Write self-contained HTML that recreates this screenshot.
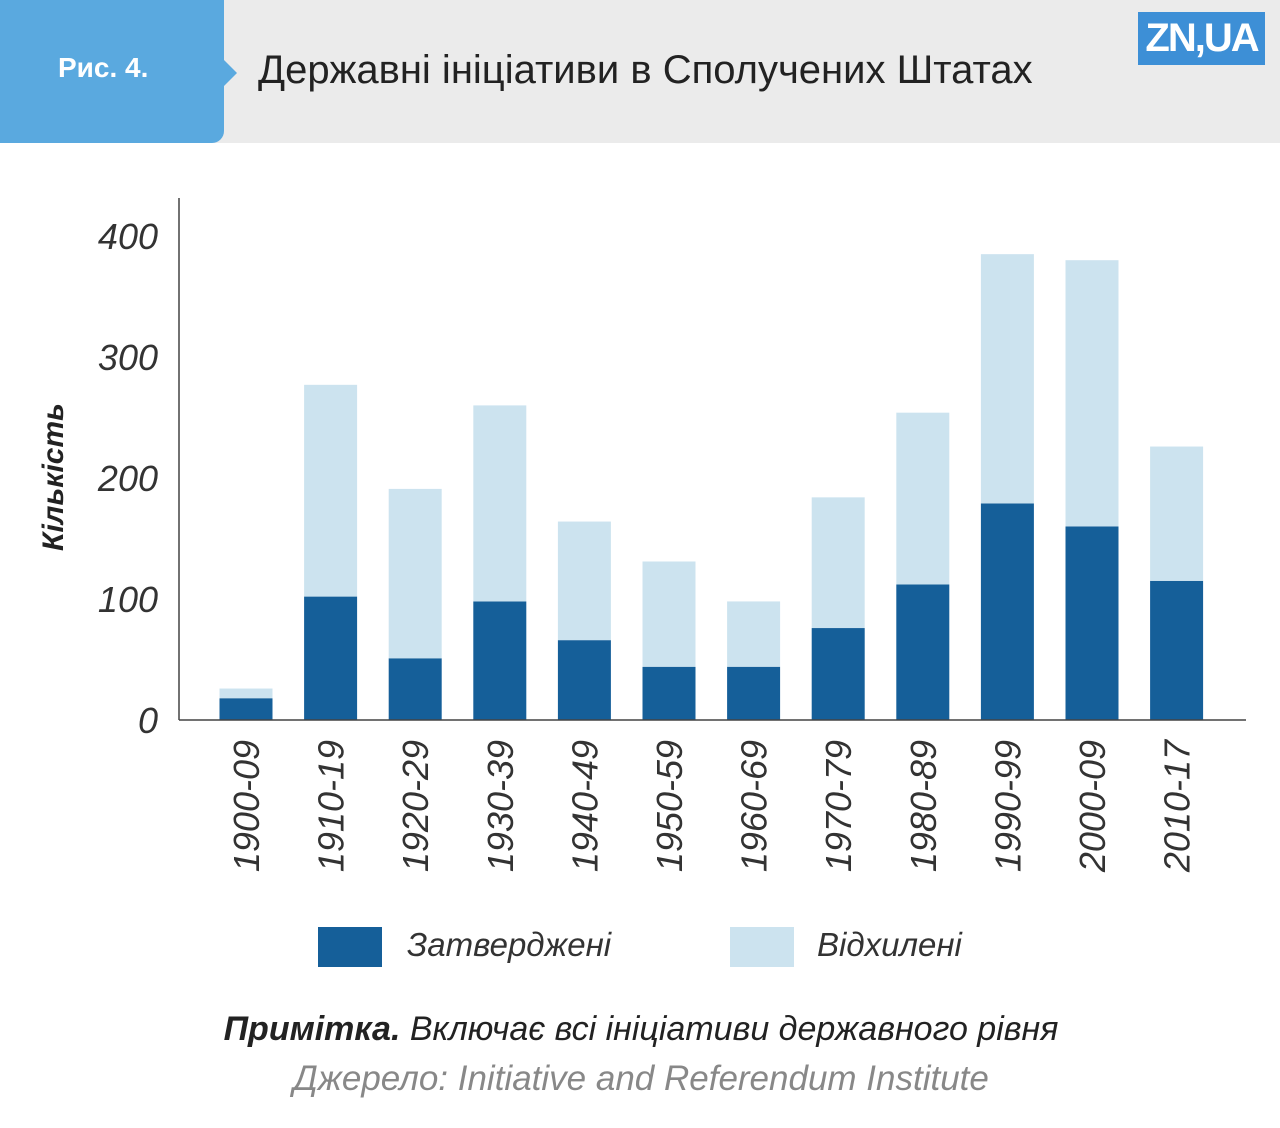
<!DOCTYPE html>
<html><head><meta charset="utf-8">
<style>
body{margin:0;width:1280px;height:1128px;background:#fff;font-family:"Liberation Sans","DejaVu Sans",sans-serif;overflow:hidden;position:relative}
.hdr{position:absolute;left:0;top:0;width:1280px;height:143px;background:#ebebeb}
.tab{position:absolute;left:0;top:0;width:224px;height:143px;background:#5aa9df;border-radius:0 0 12px 0}
.arrow{position:absolute;left:224px;top:60px;width:0;height:0;border-top:13px solid transparent;border-bottom:13px solid transparent;border-left:13px solid #5aa9df}
.fig{position:absolute;left:58px;top:52px;color:#fff;font-weight:bold;font-size:28px}
.title{position:absolute;left:258px;top:48px;font-size:40px;color:#222}
.logo{position:absolute;left:1138px;top:12px;width:127px;height:53px;background:#3d8fd6;color:#fff;font-weight:bold;font-size:40px;line-height:53px;text-align:center;letter-spacing:-2px}
svg text{font-family:"Liberation Sans","DejaVu Sans",sans-serif}
</style></head><body>
<div class="hdr"></div>
<div class="tab"></div>
<div class="arrow"></div>
<div class="fig">Рис. 4.</div>
<div class="title">Державні ініціативи в Сполучених Штатах</div>
<div class="logo">ZN,UA</div>
<svg id="chart" width="1280" height="1128" style="position:absolute;left:0;top:0"></svg>
<script>
const categories=["1900-09","1910-19","1920-29","1930-39","1940-49","1950-59","1960-69","1970-79","1980-89","1990-99","2000-09","2010-17"];
const approved=[18,102,51,98,66,44,44,76,112,179,160,115];
const rejected=[8,175,140,162,98,87,54,108,142,206,220,111];
const yTicks=[0,100,200,300,400];
const NS="http://www.w3.org/2000/svg";
const svg=document.getElementById('chart');
const y=v=>720-v*1.21;
const xc=i=>246+i*84.6;
const bw=53;
function mk(t,a,txt){const e=document.createElementNS(NS,t);for(const k in a)e.setAttribute(k,a[k]);if(txt!=null)e.textContent=txt;svg.appendChild(e);return e;}
yTicks.forEach(v=>{
 const t=mk('text',{x:158,y:y(v)+13,'text-anchor':'end','font-size':36,'font-style':'italic',fill:'#333'},v);
 
 
});
categories.forEach((c,i)=>{
 const a=mk('rect',{x:xc(i)-bw/2,y:y(approved[i]),width:bw,height:approved[i]*1.21,fill:'#155f99'});
 
 
 const tot=approved[i]+rejected[i];
 const r=mk('rect',{x:xc(i)-bw/2,y:y(tot),width:bw,height:rejected[i]*1.21,fill:'#cce3ef'});
 
 
 const t=mk('text',{x:0,y:0,'text-anchor':'end','font-size':36,'font-style':'italic',fill:'#333',transform:`translate(${xc(i)+13},740) rotate(-90)`},c);
 
 
});
const ya=mk('line',{x1:179,y1:198,x2:179,y2:720,stroke:'#444','stroke-width':1.5});


const xa=mk('line',{x1:179,y1:720,x2:1246,y2:720,stroke:'#444','stroke-width':1.5});


const yt=mk('text',{x:0,y:0,'text-anchor':'middle','font-size':30,'font-style':'italic','font-weight':'bold',fill:'#222',transform:'translate(63,477) rotate(-90)'},'Кількість');


</script>
<svg width="1280" height="1128" style="position:absolute;left:0;top:0;pointer-events:none">
<rect x="318" y="927" width="64" height="40" fill="#155f99"/>
<text x="407" y="956" font-size="33" font-style="italic" fill="#333">Затверджені</text>
<rect x="730" y="927" width="64" height="40" fill="#cce3ef"/>
<text x="817" y="956" font-size="33" font-style="italic" fill="#333">Відхилені</text>
<text x="641" y="1040" text-anchor="middle" font-size="34" font-style="italic" fill="#222"><tspan font-weight="bold">Примітка.</tspan> Включає всі ініціативи державного рівня</text>
<text x="641" y="1090" text-anchor="middle" font-size="35" font-style="italic" fill="#888">Джерело: Initiative and Referendum Institute</text>
</svg>
</body></html>
